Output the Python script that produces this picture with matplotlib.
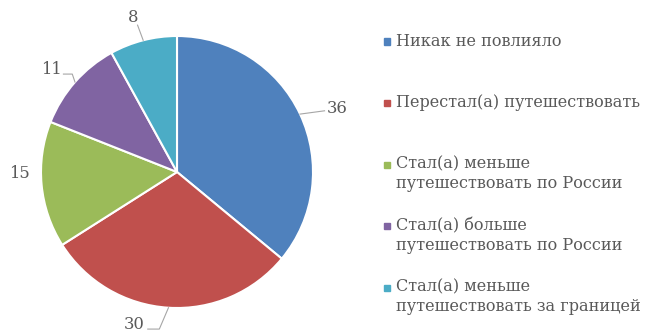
import matplotlib.pyplot as plt
import numpy as np

categories = [
    "Никак не повлияло",
    "Перестал(а) путешествовать",
    "Стал(а) меньше\nпутешествовать по России",
    "Стал(а) больше\nпутешествовать по России",
    "Стал(а) меньше\nпутешествовать за границей",
]
values = [36, 30, 15, 11, 8]
colors = ["#4F81BD", "#C0504D", "#9BBB59", "#8064A2", "#4BACC6"]

text_color = "#595959"
line_color = "#A6A6A6"
plt.rcParams["font.family"] = ["DejaVu Serif"]

fig = plt.figure(figsize=(6.45, 3.33), dpi=100)
ax = fig.add_axes([41 / 645, 25 / 333, 272 / 645, 272 / 333])

wedges, _ = ax.pie(
    values,
    colors=colors,
    startangle=90,
    counterclock=False,
    radius=1.0,
    wedgeprops=dict(edgecolor="white", linewidth=1.5),
)
ax.set_xlim(-1, 1)
ax.set_ylim(-1, 1)
ax.set_aspect("equal")

# label anchor (x, y, ha) and leader line bend points, in radius units
label_pos = [
    (1.10, 0.47, "left"),
    (-0.235, -1.12, "right"),
    (-1.085, -0.01, "right"),
    (-0.85, 0.75, "right"),
    (-0.32, 1.135, "center"),
]
leader_pts = [
    [(1.085, 0.45)],
    [(-0.13, -1.155), (-0.215, -1.155)],
    [],
    [(-0.77, 0.72), (-0.835, 0.72)],
    [(-0.29, 1.08)],
]
for w, v, (tx, ty, ha), pts in zip(wedges, values, label_pos, leader_pts):
    if pts:
        mid = np.deg2rad((w.theta1 + w.theta2) / 2)
        xs = [np.cos(mid)] + [p[0] for p in pts]
        ys = [np.sin(mid)] + [p[1] for p in pts]
        ax.plot(xs, ys, color=line_color, lw=0.8, clip_on=False)
    ax.text(tx, ty, str(v), ha=ha, va="center", fontsize=11.8, color=text_color, clip_on=False)

# legend drawn as a column of squares and labels
for i, (label, c) in enumerate(zip(categories, colors)):
    y = 1 - (41 + i * 61.5) / 333
    fig.patches.append(plt.Rectangle((384 / 645, y - 3.5 / 333), 6 / 645, 6 / 333,
                                     transform=fig.transFigure, color=c))
    if "\n" in label:
        fig.text(396 / 645, y + 8.5 / 333, label, ha="left", va="top",
                 fontsize=11.6, color=text_color, linespacing=1.2)
    else:
        fig.text(396 / 645, y, label, ha="left", va="center",
                 fontsize=11.6, color=text_color)

fig.savefig("out.png", dpi=100)
